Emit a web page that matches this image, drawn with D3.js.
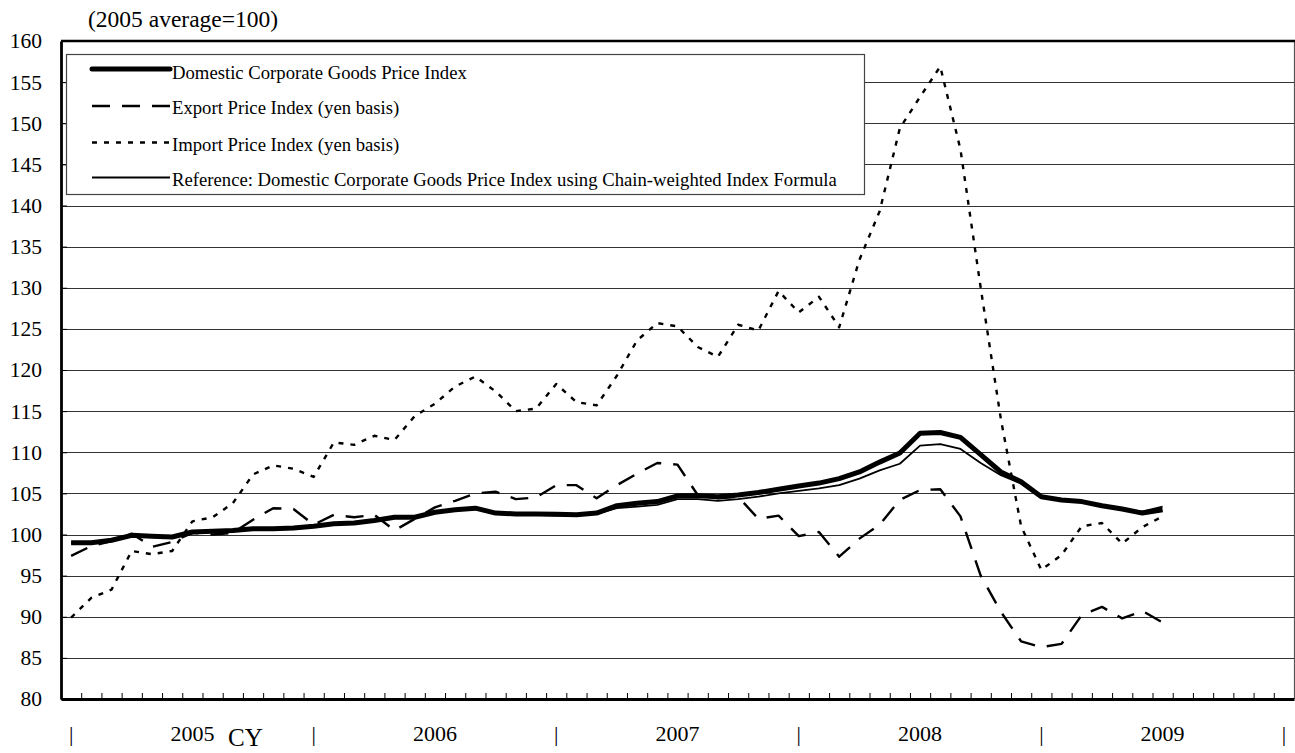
<!DOCTYPE html>
<html><head><meta charset="utf-8">
<script src="https://cdn.jsdelivr.net/npm/d3@7"></script>
<style>
body{margin:0;background:#fff}
svg{display:block}
text{font-family:"Liberation Serif","Times New Roman",serif;fill:#000}
</style>
</head><body>
<svg id="c" width="1295" height="753"></svg>
<script>
// ---------- data ----------
const years = [2005, 2006, 2007, 2008, 2009, 2010];
const yearLabels = ["2005", "2006", "2007", "2008", "2009"];
const yTicks = [80, 85, 90, 95, 100, 105, 110, 115, 120, 125, 130, 135, 140, 145, 150, 155, 160];
// monthly categories Jan 2005 .. Jan 2010 (61 slots on the axis)
const categories = [];
years.forEach(y => { for (let m = 1; m <= 12; m++) if (categories.length < 61) categories.push(y + "-" + (m < 10 ? "0" + m : m)); });

const domesticCGPI = [
  99.0, 99.0, 99.3, 99.9, 99.8, 99.7, 100.3, 100.4, 100.5, 100.7, 100.7, 100.8,
  101.0, 101.3, 101.4, 101.7, 102.1, 102.1, 102.7, 103.0, 103.2, 102.6, 102.5, 102.5,
  102.45, 102.4, 102.6, 103.5, 103.8, 104.0, 104.7, 104.7, 104.6, 104.8, 105.1, 105.5,
  105.9, 106.25, 106.8, 107.6, 108.8, 109.9, 112.3, 112.4, 111.8, 109.7, 107.6, 106.4,
  104.6, 104.2, 104.0, 103.5, 103.1, 102.6, 103.0
];
const exportPI = [
  97.4, 98.6, 99.2, 100.1, 98.5, 99.1, 100.2, 100.0, 100.2, 101.8, 103.2, 103.1,
  101.2, 102.4, 102.1, 102.4, 100.5, 101.9, 103.3, 104.1, 105.0, 105.2, 104.3, 104.5,
  106.0, 106.0, 104.4, 106.0, 107.4, 108.7, 108.5, 104.8, 104.4, 104.6, 101.9, 102.3,
  99.8, 100.3, 97.3, 99.5, 101.2, 104.2, 105.4, 105.5, 102.2, 95.0, 90.6, 87.0,
  86.3, 86.7, 90.2, 91.2, 89.8, 90.7, 89.3
];
const importPI = [
  89.9, 92.3, 93.3, 98.0, 97.6, 98.0, 101.6, 102.1, 103.8, 107.3, 108.4, 108.0,
  107.0, 111.2, 110.9, 112.0, 111.5, 114.4, 115.9, 118.0, 119.2, 117.4, 115.0, 115.3,
  118.3, 116.1, 115.7, 119.3, 123.6, 125.7, 125.3, 122.8, 121.6, 125.5, 124.8, 129.6,
  127.0, 128.9, 125.2, 133.4, 139.3, 149.4, 153.2, 156.9, 146.8, 130.0, 114.0, 101.0,
  95.7, 97.5, 101.0, 101.4, 98.9, 100.9, 102.2
];
const chainCGPI = [
  99.0, 99.0, 99.3, 99.9, 99.8, 99.7, 100.3, 100.4, 100.5, 100.7, 100.7, 100.8,
  101.0, 101.3, 101.4, 101.7, 102.1, 102.1, 102.7, 103.0, 103.1, 102.5, 102.4, 102.4,
  102.3, 102.3, 102.5, 103.2, 103.4, 103.6, 104.3, 104.3, 104.1, 104.3, 104.6, 105.0,
  105.3, 105.6, 106.0, 106.8, 107.8, 108.6, 110.8, 111.0, 110.4, 108.7, 107.2, 106.2,
  104.6, 104.2, 104.0, 103.5, 103.1, 102.8, 103.4
];
const seriesNames = [
  "Domestic Corporate Goods Price Index",
  "Export Price Index (yen basis)",
  "Import Price Index (yen basis)",
  "Reference: Domestic Corporate Goods Price Index using Chain-weighted Index Formula"
];

// ---------- layout ----------
const L = 61, R = 1294, T = 41, B = 699;
const svg = d3.select("#c");

const x = d3.scaleBand().domain(categories).range([L, R]).paddingInner(0).paddingOuter(0);
const xc = c => x(c) + x.bandwidth() / 2;
const xb = d3.scaleLinear().domain([0, categories.length]).range([L, R]);
const y = d3.scaleLinear().domain([80, 160]).range([B, T]);

// gridlines
svg.append("g").selectAll("line").data(yTicks.filter(v => v > 80 && v < 160)).join("line")
  .attr("x1", L).attr("x2", R)
  .attr("y1", d => Math.round(y(d)) + 0.5).attr("y2", d => Math.round(y(d)) + 0.5)
  .attr("stroke", "#333").attr("stroke-width", 1);

// right border
svg.append("line").attr("x1", R + 0.5).attr("x2", R + 0.5).attr("y1", T).attr("y2", B)
  .attr("stroke", "#555").attr("stroke-width", 1.2);
// top border
svg.append("line").attr("x1", L).attr("x2", R + 1).attr("y1", y(160)).attr("y2", y(160))
  .attr("stroke", "#000").attr("stroke-width", 2.6);

// y axis
const yAxis = d3.axisLeft(y).tickValues(yTicks).tickSize(-6).tickSizeOuter(0).tickPadding(19);
const gy = svg.append("g").attr("transform", `translate(${L},0)`).call(yAxis);
gy.select(".domain").attr("stroke", "#000").attr("stroke-width", 2.8);
gy.selectAll(".tick line").attr("stroke", "#000").attr("stroke-width", 1);
gy.selectAll(".tick text").attr("font-size", 21.5).attr("fill", "#000");

// x axis (ticks between months)
const xAxis = d3.axisBottom(xb).tickValues(d3.range(1, categories.length)).tickSize(-6).tickSizeOuter(0).tickFormat("");
const gx = svg.append("g").attr("transform", `translate(0,${B})`).call(xAxis);
gx.select(".domain").attr("stroke", "#000").attr("stroke-width", 2.8);
gx.selectAll(".tick line").attr("stroke", "#000").attr("stroke-width", 1);

// year separators and labels
const sepCats = categories.filter((c, i) => i % 12 === 0);
svg.append("g").selectAll("text").data(sepCats).join("text")
  .attr("x", d => xc(d)).attr("y", 741).attr("text-anchor", "middle")
  .attr("font-size", 22).text("|");
svg.append("g").selectAll("text").data(yearLabels).join("text")
  .attr("x", (d, i) => xc(categories[i * 12 + 6])).attr("y", 741).attr("text-anchor", "middle")
  .attr("font-size", 22).text(d => d);
svg.append("text").attr("x", 228).attr("y", 746).attr("font-size", 25).text("CY");

// unit label
svg.append("text").attr("x", 88).attr("y", 27).attr("font-size", 23.5).text("(2005 average=100)");

// lines
const line = d3.line().x((d, i) => xc(categories[i])).y(d => y(d));
const styles = [
  { data: domesticCGPI, w: 5, dash: null },
  { data: exportPI, w: 2.4, dash: "18,12" },
  { data: importPI, w: 2.4, dash: "5,7" },
  { data: chainCGPI, w: 1.8, dash: null }
];
const drawOrder = [2, 1, 0, 3];
drawOrder.forEach(i => {
  const s = styles[i];
  svg.append("path").datum(s.data).attr("d", line)
    .attr("fill", "none").attr("stroke", "#000").attr("stroke-width", s.w)
    .attr("stroke-linejoin", "round")
    .attr("stroke-dasharray", s.dash);
});

// legend
const lg = svg.append("g");
lg.append("rect").attr("x", 66.5).attr("y", 54.5).attr("width", 798).attr("height", 140)
  .attr("fill", "#fff").attr("stroke", "#444").attr("stroke-width", 1.2);
const rowsY = [69, 106, 142.5, 177.5];
seriesNames.forEach((n, i) => {
  const s = styles[i];
  lg.append("line").attr("x1", 92).attr("x2", 170).attr("y1", rowsY[i]).attr("y2", rowsY[i])
    .attr("stroke", "#000").attr("stroke-width", i === 0 ? 5 : (i === 3 ? 2 : 2.6))
    .attr("stroke-linecap", i === 0 ? "round" : "butt")
    .attr("stroke-dasharray", s.dash);
  lg.append("text").attr("x", 172).attr("y", rowsY[i] + (i === 0 ? 10 : 8)).attr("font-size", 18.7).text(n);
});
</script>
</body></html>
